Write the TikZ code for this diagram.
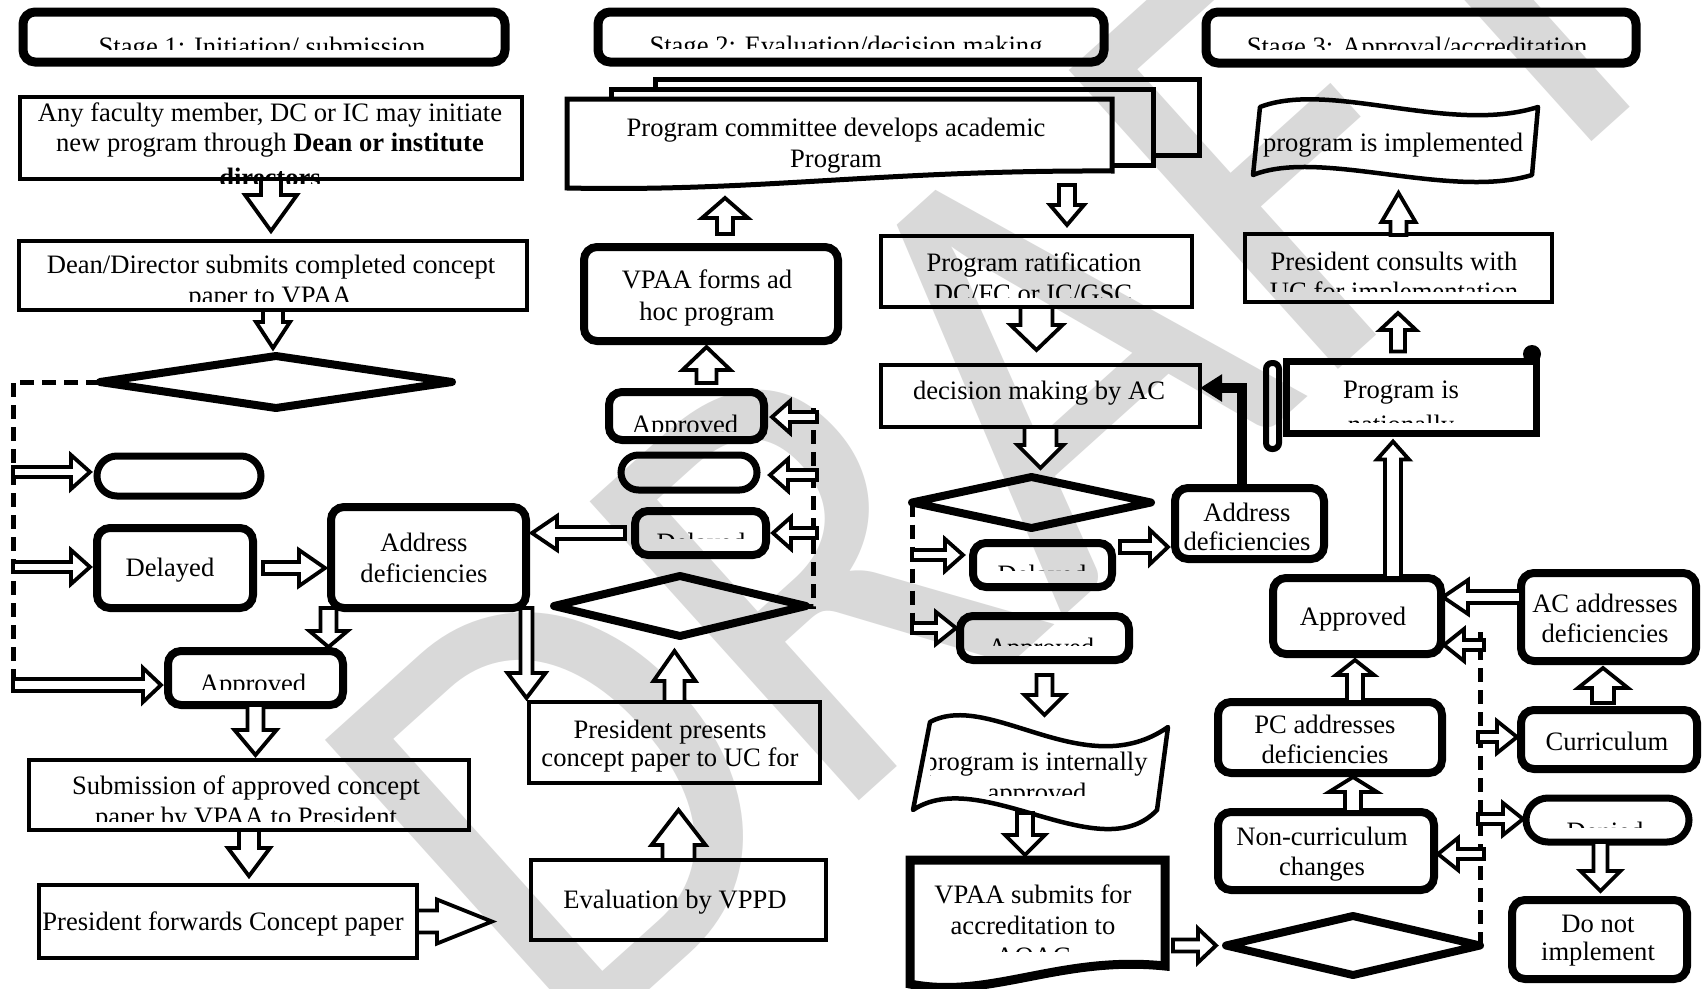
\documentclass[tikz,border=0pt]{standalone}
\usepackage{fontspec}
\setmainfont{Liberation Serif}
\newfontfamily\wmfont{Carlito}
\usetikzlibrary{shapes.geometric,shapes.misc,arrows.meta,calc}
\newcommand\fsz{\fontsize{26.6}{31}\selectfont}
\tikzset{
 thinbox/.style={draw, line width=4pt, inner sep=0pt, outer sep=0pt},
 thickbox/.style={draw, line width=8pt, rounded corners=13pt, inner sep=0pt, outer sep=0pt},
 hdr/.style={draw, line width=9pt, rounded corners=12pt, inner sep=0pt, outer sep=0pt},
 term/.style={draw, rounded rectangle, line width=7pt, inner sep=0pt, outer sep=0pt},
 dia/.style={draw, diamond, line width=8pt, line join=round, inner sep=0pt, outer sep=0pt},
 blk/.style={draw, fill=white, line width=3.8pt, line join=miter},
 dsh/.style={draw, line width=5pt, dash pattern=on 14pt off 8pt},
 txt/.style={inner sep=0pt, outer sep=0pt, anchor=base, font=\fsz},
 anc/.style={inner sep=0pt, outer sep=0pt, draw=none},
 docl/.style={draw, line width=5pt},
 tapesh/.style={draw, line width=4.5pt, line join=round},
 vsd/.style={draw, line width=9pt},
}
\newcommand\mkbox[6]{\node[#1, minimum width={#5-#3-6}, minimum height={#6-#4-6}] (#2) at ({(#3+#5)/2},{(#4+#6)/2}) {};}
\newcommand\mktxt[4]{\node[txt] (#1) at (#2,#3) {#4};}
\newcommand\mkctxt[8]{\begin{scope}\clip (#2,#3) rectangle (#4,#5);\node[txt] (#1) at (#6,#7) {#8};\end{scope}}
\newcommand\vblk[5]{\draw[blk] let \p1=(#1), \p2=(#2), \n1={sign(\y2-\y1)} in
 ({\x1-#3},{\y1}) -- ({\x1-#3},{\y2-(\n1)*#5}) -- ({\x1-#4},{\y2-(\n1)*#5}) -- ({\x1},{\y2}) -- ({\x1+#4},{\y2-(\n1)*#5}) -- ({\x1+#3},{\y2-(\n1)*#5}) -- ({\x1+#3},{\y1}) -- cycle;}
\newcommand\hblk[5]{\draw[blk] let \p1=(#1), \p2=(#2), \n1={sign(\x2-\x1)} in
 ({\x1},{\y1-#3}) -- ({\x2-(\n1)*#5},{\y1-#3}) -- ({\x2-(\n1)*#5},{\y1-#4}) -- ({\x2},{\y1}) -- ({\x2-(\n1)*#5},{\y1+#4}) -- ({\x2-(\n1)*#5},{\y1+#3}) -- ({\x1},{\y1+#3}) -- cycle;}
\begin{document}
\begin{tikzpicture}[x=1pt,y=-1pt]
\useasboundingbox (0,0) rectangle (1702,988);
\fill[white] (0,0) rectangle (1702,988);
% watermark
\begin{scope}
\clip (0,0) rectangle (1702,988);
\node[anchor=base west, rotate=42, xscale=0.92, inner sep=0pt, text=black!15, font=\wmfont\fontsize{627}{627}\selectfont] (wm) at (565,1066) {DRAFT};
\end{scope}

% ================= Stage 1 =================
\mkbox{hdr}{H1}{20}{9}{508}{65}
\mkctxt{H1t}{20}{9}{508}{49}{262}{55}{Stage 1: Initiation/ submission}

\mkbox{thinbox}{B1}{17}{94}{525}{182}
\mktxt{B1a}{270}{121}{Any faculty member, DC or IC may initiate}
\mktxt{B1b}{270}{151}{new program through \textbf{Dean or institute}}
\mkctxt{B1c}{0}{0}{1702}{183}{270}{186}{\textbf{directors}}

\mkbox{thinbox}{B2}{16}{238}{530}{313}
\mktxt{B2a}{271}{273}{Dean/Director submits completed concept}
\mkctxt{B2b}{0}{0}{1702}{301}{270}{304}{paper to VPAA}

\node[dia, minimum width=352, minimum height=52] (D1) at (276,382) {};
\coordinate (dl1) at (13,686);
\draw[dsh] (D1.west) -| (dl1);
\coordinate (t11) at (13,472);
\coordinate (t12) at (13,567);
\coordinate (t13) at (13,685);

\mkbox{term}{T1}{94}{453}{264}{499}
\mkbox{thickbox}{Del1}{94}{525}{256}{611}
\mktxt{Del1t}{170}{576}{Delayed}
\mkbox{thickbox}{Ad1}{328}{504}{529}{611}
\mktxt{Ad1a}{424}{551}{Address}
\mktxt{Ad1b}{424}{582}{deficiencies}
\mkbox{thickbox}{Ap1}{165}{648}{346}{708}
\mkctxt{Ap1t}{0}{0}{1702}{689}{253}{692}{Approved}

\mkbox{thinbox}{Sub}{26}{757}{472}{833}
\mktxt{Suba}{246}{794}{Submission of approved concept}
\mkctxt{Subb}{0}{0}{1702}{821}{246}{825}{paper by VPAA to President}
\mkbox{thinbox}{PF}{36}{882}{420}{961}
\mktxt{PFt}{223}{930}{President forwards Concept paper}

% ================= Stage 2 =================
\mkbox{hdr}{H2}{595}{9}{1107}{65}
\mkctxt{H2t}{595}{9}{1107}{48}{846}{54}{Stage 2: Evaluation/decision making}

\draw[docl] (655,89) -- (655,79) -- (1199,79) -- (1199,155) -- (1153,155);
\draw[docl] (611,99) -- (611,89) -- (1153,89) -- (1153,165) -- (1112,165);
\draw[docl] (567,99) -- (1112,99) -- (1112,171) .. controls (880,170) and (760,192) .. (567,188) -- cycle;
\node[anc, minimum width=545, minimum height=86] (MD) at (839.5,142) {};
\mktxt{MDa}{836}{136}{Program committee develops academic}
\mktxt{MDb}{836}{167}{Program}

\mkbox{thickbox}{VF}{581}{244}{841}{344}
\mktxt{VFa}{707}{288}{VPAA forms ad}
\mktxt{VFb}{707}{320}{hoc program}

\mkbox{thickbox}{Ap3}{606}{389}{767}{443}
\mkctxt{Ap3t}{0}{0}{1702}{431}{685}{433}{Approved}
\mkbox{term}{T2}{618}{452}{760}{493}
\mkbox{thickbox}{DS}{632}{508}{769}{558}
\mkctxt{DSt}{0}{0}{1702}{538.5}{701}{551}{Delayed}
\node[dia, minimum width=252, minimum height=60] (D3) at (680,606) {};
\coordinate (dd3) at (813,408);
\draw[dsh] (dd3) |- (D3.east);
\coordinate (t31) at (817,417);
\coordinate (t32) at (817,475);
\coordinate (t33) at (817,533);

\mkbox{thinbox}{PP}{526}{699}{823}{786}
\mktxt{PPa}{670}{738}{President presents}
\mktxt{PPb}{670}{766}{concept paper to UC for}
\mkbox{thinbox}{Ev}{528}{857}{829}{943}
\mktxt{Evt}{675}{908}{Evaluation by VPPD}

\mkbox{thinbox}{Rt}{878}{233}{1195}{310}
\mktxt{Rta}{1034}{271}{Program ratification}
\mkctxt{Rtb}{0}{0}{1702}{297}{1033}{302}{DC/FC or IC/GSC}
\mkbox{thinbox}{Dc}{878}{362}{1203}{430}
\mktxt{Dct}{1039}{399}{decision making by AC}
\node[dia, minimum width=239, minimum height=51] (D2) at (1031.5,502.5) {};
\coordinate (dd2) at (911,630);
\draw[dsh] (D2.west) -- (D2.west |- dd2);
\coordinate (t21) at (912,555);
\coordinate (t22) at (912,628);

\mkbox{thickbox}{Dl2}{970}{540}{1115}{590}
\mkctxt{Dl2t}{0}{0}{1702}{570.5}{1042}{583}{Delayed}
\mkbox{thickbox}{Ad2}{1172}{485}{1327}{562}
\mktxt{Ad2a}{1247}{521}{Address}
\mktxt{Ad2b}{1247}{550}{deficiencies}
\mkbox{thickbox}{Ap2}{957}{613}{1132}{663}
\mkctxt{Ap2t}{0}{0}{1702}{645}{1041}{656}{Approved}

\draw[tapesh] (930,722) .. controls (990,690) and (1085,785) .. (1168,727) -- (1157,810) .. controls (1100,870) and (980,765) .. (913,810) -- cycle;
\node[anc, minimum width=255, minimum height=88] (TI) at (1040,766) {};
\mkctxt{TIa}{930}{700}{1702}{988}{1036}{770}{program is internally}
\mkctxt{TIb}{0}{0}{1702}{795}{1037}{801}{approved}

\draw[vsd] (910,860) -- (1165,860) -- (1165,966) .. controls (1060,955) and (990,1000) .. (910,984) -- cycle;
\node[anc, minimum width=255, minimum height=125] (VS) at (1037.5,922.5) {};
\mktxt{VSa}{1033}{903}{VPAA submits for}
\mktxt{VSb}{1033}{934}{accreditation to}
\mkctxt{VSc}{0}{0}{1702}{951}{1033}{965}{AQAC}

% ================= Stage 3 =================
\mkbox{hdr}{H3}{1203}{9}{1639}{66}
\mkctxt{H3t}{1203}{9}{1639}{49}{1417}{55}{Stage 3: Approval/accreditation}

\draw[tapesh] (1260,107) .. controls (1330,80) and (1450,135) .. (1538,107) -- (1532,175) .. controls (1450,200) and (1320,148) .. (1253,175) -- cycle;
\node[anc, minimum width=285, minimum height=80] (TP) at (1395,141) {};
\mktxt{TPt}{1393}{151}{program is implemented}

\mkbox{thinbox}{PC1}{1242}{231}{1555}{305}
\mktxt{PC1a}{1394}{270}{President consults with}
\mkctxt{PC1b}{0}{0}{1702}{291}{1394}{300}{UC for implementation}

\node[draw, line width=7pt, inner sep=0pt, outer sep=0pt, minimum width=250, minimum height=72] (SC) at (1411.5,397.5) {};
\draw[line width=6pt, rounded corners=6pt] (1266,363) rectangle (1279,449);
\fill (1532,354) circle (9pt);
\mktxt{SCa}{1401}{398}{Program is}
\mkctxt{SCb}{0}{0}{1702}{422}{1401}{433}{nationally}

\mkbox{thickbox}{Ap4}{1270}{575}{1444}{657}
\mktxt{Ap4t}{1353}{625}{Approved}
\mkbox{thickbox}{AC}{1518}{570}{1699}{664}
\mktxt{ACa}{1605}{612}{AC addresses}
\mktxt{ACb}{1605}{642}{deficiencies}
\mkbox{thickbox}{Cu}{1518}{707}{1700}{772}
\mktxt{Cut}{1607}{750}{Curriculum}
\mkbox{term}{T3}{1523}{795}{1692}{845}
\mkctxt{T3t}{0}{0}{1702}{827}{1605}{840}{Denied}
\mkbox{thickbox}{DN}{1509}{897}{1690}{982}
\mktxt{DNa}{1598}{932}{Do not}
\mktxt{DNb}{1598}{960}{implement}
\mkbox{thickbox}{PCa}{1215}{699}{1445}{776}
\mktxt{PCaa}{1325}{733}{PC addresses}
\mktxt{PCab}{1325}{763}{deficiencies}
\mkbox{thickbox}{NC}{1215}{809}{1437}{893}
\mktxt{NCa}{1322}{845}{Non-curriculum}
\mktxt{NCb}{1322}{875}{changes}
\node[dia, minimum width=254, minimum height=59] (D4) at (1353,945.5) {};
\coordinate (dd4) at (1481,632);
\draw[dsh] (D4.east) -- (D4.east |- dd4);
\coordinate (t41) at (1484,645);
\coordinate (t42) at (1478,737);
\coordinate (t43) at (1478,819);
\coordinate (t44) at (1484,854);

% ================= connectors =================
% stage 1
\vblk{B1.south}{[yshift=10pt]B2.north}{10pt}{26pt}{36pt}
\vblk{B2.south}{[yshift=8pt]D1.north}{10pt}{17pt}{26pt}
\hblk{t11}{[xshift=-7pt]T1.west}{5pt}{17pt}{19pt}
\hblk{t12}{[xshift=-7pt]Del1.west}{5pt}{17pt}{19pt}
\hblk{t13}{[xshift=-7pt]Ap1.west}{6pt}{17pt}{18pt}
\hblk{[xshift=10pt]Del1.east}{[xshift=-6pt]Ad1.west}{6pt}{18pt}{26pt}
\vblk{[xshift=-100pt]Ad1.south}{[yshift=4pt]Ap1.north}{8pt}{19pt}{16pt}
\vblk{[xshift=98pt]Ad1.south}{[yshift=4pt]PP.north}{6pt}{19pt}{25pt}
\vblk{Ap1.south}{[yshift=5pt]Sub.north}{8pt}{21pt}{25pt}
\vblk{Sub.south}{[yshift=9pt]PF.north}{10pt}{21pt}{28pt}
\hblk{PF.east}{[xshift=-39pt]Ev.west}{11pt}{22pt}{55pt}
% stage 2
\vblk{[xshift=14pt,yshift=13pt]VF.north}{[yshift=-13pt]MD.south}{8pt}{23pt}{20pt}
\vblk{[xshift=20pt,yshift=9pt]Ap3.north}{[yshift=-6pt]VF.south}{10pt}{24pt}{23pt}
\hblk{t31}{[xshift=8pt]Ap3.east}{5pt}{16pt}{18pt}
\hblk{t32}{[xshift=13pt]T2.east}{5pt}{16pt}{18pt}
\hblk{t33}{[xshift=7pt]DS.east}{5pt}{16pt}{18pt}
\hblk{[xshift=-10pt]DS.west}{[xshift=6pt]Ad1.east}{6pt}{17pt}{25pt}
\vblk{PP.north}{[yshift=-15pt]D3.south}{10pt}{21pt}{30pt}
\vblk{Ev.north}{[yshift=-27pt]PP.south}{16pt}{27pt}{35pt}
\vblk{[xshift=-45pt]MD.south east}{[yshift=11pt]Rt.north}{8pt}{17pt}{20pt}
\vblk{Rt.south}{[yshift=15pt]Dc.north}{16pt}{26pt}{25pt}
\vblk{Dc.south}{[yshift=9pt]D2.north}{16pt}{23pt}{23pt}
\hblk{t21}{[xshift=-10pt]Dl2.west}{5pt}{16pt}{18pt}
\hblk{t22}{[xshift=-4pt]Ap2.west}{5pt}{16pt}{20pt}
\hblk{[xshift=8pt,yshift=18pt]Dl2.east}{[xshift=-7pt]Ad2.west}{6pt}{17pt}{18pt}
\draw[line width=10pt, -{Triangle[length=22pt,width=26pt]}] ([xshift=-7.5pt]Ad2.north) |- ([yshift=8pt]Dc.east);
\vblk{[yshift=-15pt]Ap2.south}{[yshift=7pt]TI.north}{8pt}{20pt}{20pt}
\vblk{[xshift=-15pt,yshift=-3pt]TI.south}{[yshift=5pt]VS.north}{8pt}{20pt}{20pt}
\hblk{[xshift=8pt,yshift=-23pt]VS.east}{[xshift=-10pt]D4.west}{6pt}{17pt}{18pt}
% stage 3
\vblk{[yshift=-1pt]PC1.north}{[yshift=-12pt]TP.south}{8pt}{17pt}{29pt}
\vblk{[xshift=-13.5pt,yshift=10pt]SC.north}{[yshift=-11pt]PC1.south}{7pt}{18pt}{17pt}
\vblk{[xshift=36pt]Ap4.north}{[yshift=-8pt]SC.south}{8pt}{16pt}{18pt}
\hblk{[yshift=20pt]AC.west}{[xshift=2pt]Ap4.east}{6pt}{17pt}{25pt}
\vblk{[xshift=-6pt,yshift=7pt]Cu.north}{[yshift=-7pt]AC.south}{11pt}{25pt}{20pt}
\vblk{[xshift=-7pt]T3.south}{[yshift=9pt]DN.north}{7pt}{20pt}{20pt}
\vblk{[xshift=25pt]PCa.north}{[yshift=-6pt]Ap4.south}{8pt}{19pt}{15pt}
\vblk{[xshift=27pt]NC.north}{[yshift=-4pt]PCa.south}{8pt}{24pt}{15pt}
\hblk{t41}{[xshift=3pt]Ap4.east}{5pt}{16pt}{20pt}
\hblk{t42}{[xshift=-4pt]Cu.west}{5pt}{16pt}{20pt}
\hblk{t43}{[xshift=-3pt]T3.west}{5pt}{16pt}{20pt}
\hblk{t44}{[xshift=4pt]NC.east}{5pt}{16pt}{20pt}
\end{tikzpicture}
\end{document}
